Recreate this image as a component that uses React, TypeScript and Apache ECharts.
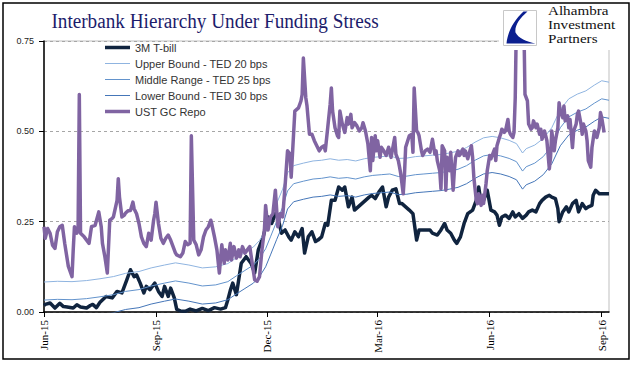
import React, { useEffect, useRef } from 'react';
import * as echarts from 'echarts';

const titleText = 'Interbank Hierarchy Under Funding Stress';
const logoLines = ['Alhambra', 'Investment', 'Partners'];
const seriesNames = ['3M T-bill', 'Upper Bound - TED 20 bps', 'Middle Range - TED 25 bps', 'Lower Bound - TED 30 bps', 'UST GC Repo'];
const seriesColors = ['#10243f', '#8fb4e0', '#6393cc', '#4576b8', '#8064a2'];
const seriesWidths = [3.5, 1, 1, 1, 3.5];

const tickDates = ['2015-06-01', '2015-09-01', '2015-12-01', '2016-03-01', '2016-06-01', '2016-09-01'];
const tickLabels = ['Jun-15', 'Sep-15', 'Dec-15', 'Mar-16', 'Jun-16', 'Sep-16'];
const xEnd = '2016-09-07';
const yTicks = [0, 0.25, 0.5, 0.75];

const tbill: [string, number][] = [
['2015-06-01',0.018],['2015-06-02',0.021],['2015-06-06',0.025],['2015-06-10',0.011],['2015-06-14',0.024],['2015-06-17',0.015],['2015-06-20',0.014],['2015-06-25',0.011],['2015-06-28',0.020],['2015-07-01',0.014],['2015-07-06',0.011],['2015-07-09',0.018],['2015-07-11',0.021],['2015-07-14',0.012],['2015-07-17',0.027],['2015-07-22',0.043],['2015-07-27',0.039],['2015-07-31',0.057],['2015-08-04',0.053],['2015-08-08',0.089],['2015-08-11',0.117],['2015-08-14',0.098],['2015-08-16',0.103],['2015-08-19',0.080],['2015-08-22',0.053],['2015-08-24',0.071],['2015-08-27',0.062],['2015-08-31',0.080],['2015-09-03',0.057],['2015-09-06',0.043],['2015-09-08',0.071],['2015-09-11',0.043],['2015-09-13',0.066],['2015-09-16',0.039],['2015-09-18',0.007],['2015-09-21',0.003],['2015-09-25',0.002],['2015-09-29',0.008],['2015-10-04',0.003],['2015-10-09',0.010],['2015-10-14',0.004],['2015-10-19',0.012],['2015-10-24',0.008],['2015-10-28',0.012],['2015-10-30',0.034],['2015-11-01',0.060],['2015-11-03',0.080],['2015-11-06',0.048],['2015-11-10',0.135],['2015-11-14',0.153],['2015-11-18',0.135],['2015-11-21',0.108],['2015-11-24',0.172],['2015-11-28',0.208],['2015-12-02',0.263],['2015-12-05',0.245],['2015-12-08',0.272],['2015-12-10',0.263],['2015-12-13',0.218],['2015-12-16',0.227],['2015-12-19',0.208],['2015-12-21',0.199],['2015-12-24',0.222],['2015-12-27',0.208],['2015-12-30',0.231],['2016-01-01',0.163],['2016-01-04',0.208],['2016-01-07',0.222],['2016-01-10',0.195],['2016-01-12',0.199],['2016-01-15',0.208],['2016-01-18',0.245],['2016-01-20',0.240],['2016-01-23',0.309],['2016-01-26',0.309],['2016-01-29',0.346],['2016-02-01',0.337],['2016-02-03',0.346],['2016-02-06',0.291],['2016-02-09',0.318],['2016-02-11',0.282],['2016-02-14',0.291],['2016-02-17',0.300],['2016-02-20',0.309],['2016-02-23',0.318],['2016-02-25',0.323],['2016-02-28',0.314],['2016-03-02',0.332],['2016-03-05',0.346],['2016-03-08',0.291],['2016-03-10',0.318],['2016-03-13',0.337],['2016-03-16',0.341],['2016-03-19',0.300],['2016-03-21',0.300],['2016-03-24',0.291],['2016-03-27',0.282],['2016-03-30',0.272],['2016-04-02',0.199],['2016-04-04',0.227],['2016-04-13',0.227],['2016-04-15',0.218],['2016-04-19',0.213],['2016-04-22',0.227],['2016-04-25',0.245],['2016-04-27',0.227],['2016-04-30',0.218],['2016-05-03',0.199],['2016-05-05',0.190],['2016-05-08',0.208],['2016-05-11',0.245],['2016-05-14',0.272],['2016-05-18',0.282],['2016-05-21',0.309],['2016-05-23',0.346],['2016-05-25',0.300],['2016-05-27',0.309],['2016-05-30',0.337],['2016-06-02',0.282],['2016-06-05',0.277],['2016-06-07',0.268],['2016-06-09',0.240],['2016-06-11',0.263],['2016-06-14',0.268],['2016-06-17',0.259],['2016-06-20',0.277],['2016-06-22',0.263],['2016-06-25',0.272],['2016-06-28',0.259],['2016-07-01',0.268],['2016-07-03',0.277],['2016-07-06',0.282],['2016-07-09',0.277],['2016-07-12',0.300],['2016-07-14',0.309],['2016-07-17',0.318],['2016-07-20',0.323],['2016-07-22',0.318],['2016-07-25',0.314],['2016-07-27',0.286],['2016-07-28',0.250],['2016-07-31',0.277],['2016-08-03',0.291],['2016-08-05',0.277],['2016-08-08',0.300],['2016-08-11',0.309],['2016-08-13',0.277],['2016-08-16',0.300],['2016-08-19',0.286],['2016-08-21',0.291],['2016-08-24',0.295],['2016-08-25',0.323],['2016-08-27',0.337],['2016-08-30',0.327],['2016-09-07',0.327]
];

const tedDates = ['2015-06-01','2015-06-12','2015-06-24','2015-07-06','2015-07-17','2015-07-28','2015-08-07','2015-08-18','2015-08-28','2015-09-08','2015-09-17','2015-09-28','2015-10-09','2015-10-20','2015-10-30','2015-11-06','2015-11-13','2015-11-20','2015-11-25','2015-11-30','2015-12-04','2015-12-09','2015-12-14','2015-12-18','2015-12-23','2015-12-31','2016-01-08','2016-01-15','2016-01-22','2016-01-29','2016-02-05','2016-02-12','2016-02-19','2016-02-26','2016-03-04','2016-03-11','2016-03-18','2016-03-25','2016-04-01','2016-04-08','2016-04-15','2016-04-22','2016-04-29','2016-05-06','2016-05-13','2016-05-20','2016-05-27','2016-06-03','2016-06-10','2016-06-17','2016-06-23','2016-06-28','2016-07-01','2016-07-08','2016-07-15','2016-07-22','2016-07-29','2016-08-05','2016-08-12','2016-08-19','2016-08-26','2016-09-01','2016-09-07'];

const upperVals = [0.083,0.085,0.084,0.087,0.092,0.098,0.107,0.112,0.122,0.130,0.136,0.130,0.122,0.125,0.134,0.150,0.165,0.180,0.198,0.225,0.258,0.300,0.340,0.385,0.405,0.412,0.418,0.420,0.424,0.420,0.422,0.418,0.424,0.428,0.430,0.432,0.425,0.426,0.430,0.432,0.434,0.436,0.440,0.445,0.455,0.470,0.482,0.486,0.482,0.475,0.466,0.440,0.452,0.462,0.480,0.510,0.560,0.590,0.603,0.612,0.628,0.640,0.636];
const middleVals = [0.033,0.035,0.034,0.037,0.042,0.048,0.057,0.062,0.072,0.080,0.086,0.080,0.072,0.075,0.084,0.100,0.115,0.130,0.148,0.175,0.208,0.250,0.290,0.335,0.355,0.362,0.368,0.370,0.374,0.370,0.372,0.368,0.374,0.378,0.380,0.382,0.375,0.376,0.380,0.382,0.384,0.386,0.390,0.395,0.405,0.420,0.432,0.436,0.432,0.425,0.416,0.390,0.402,0.412,0.430,0.460,0.510,0.540,0.553,0.562,0.578,0.590,0.586];
const lowerVals = [-0.017,-0.015,-0.016,-0.013,-0.008,-0.002,0.007,0.012,0.022,0.030,0.036,0.030,0.022,0.025,0.034,0.050,0.065,0.080,0.098,0.125,0.158,0.200,0.240,0.285,0.305,0.312,0.318,0.320,0.324,0.320,0.322,0.318,0.324,0.328,0.330,0.332,0.325,0.326,0.330,0.332,0.334,0.336,0.340,0.345,0.355,0.370,0.382,0.386,0.382,0.375,0.366,0.340,0.352,0.362,0.380,0.410,0.460,0.490,0.503,0.512,0.528,0.540,0.536];

const repo: [string, number][] = [
['2015-06-01',0.236],['2015-06-02',0.204],['2015-06-04',0.231],['2015-06-06',0.218],['2015-06-08',0.185],['2015-06-10',0.176],['2015-06-12',0.222],['2015-06-14',0.236],['2015-06-16',0.240],['2015-06-18',0.190],['2015-06-21',0.126],['2015-06-24',0.098],['2015-06-25',0.172],['2015-06-26',0.236],['2015-06-28',0.218],['2015-06-29',0.236],['2015-06-30',0.602],['2015-07-01',0.218],['2015-07-04',0.208],['2015-07-06',0.199],['2015-07-08',0.190],['2015-07-10',0.236],['2015-07-13',0.240],['2015-07-16',0.277],['2015-07-18',0.236],['2015-07-19',0.190],['2015-07-21',0.153],['2015-07-23',0.108],['2015-07-25',0.254],['2015-07-27',0.259],['2015-07-28',0.263],['2015-07-31',0.309],['2015-08-01',0.369],['2015-08-02',0.318],['2015-08-04',0.263],['2015-08-06',0.268],['2015-08-07',0.274],['2015-08-09',0.280],['2015-08-11',0.281],['2015-08-13',0.304],['2015-08-14',0.286],['2015-08-16',0.272],['2015-08-18',0.245],['2015-08-20',0.208],['2015-08-22',0.190],['2015-08-24',0.181],['2015-08-26',0.218],['2015-08-28',0.199],['2015-08-30',0.254],['2015-08-31',0.272],['2015-09-01',0.304],['2015-09-03',0.245],['2015-09-05',0.204],['2015-09-07',0.190],['2015-09-09',0.204],['2015-09-11',0.213],['2015-09-13',0.199],['2015-09-15',0.181],['2015-09-17',0.163],['2015-09-18',0.158],['2015-09-21',0.153],['2015-09-23',0.163],['2015-09-25',0.195],['2015-09-27',0.186],['2015-09-29',0.190],['2015-09-30',0.488],['2015-10-02',0.199],['2015-10-04',0.186],['2015-10-06',0.158],['2015-10-08',0.172],['2015-10-10',0.208],['2015-10-12',0.227],['2015-10-14',0.236],['2015-10-16',0.254],['2015-10-17',0.240],['2015-10-19',0.208],['2015-10-21',0.172],['2015-10-23',0.108],['2015-10-25',0.186],['2015-10-27',0.135],['2015-10-28',0.172],['2015-10-30',0.144],['2015-11-01',0.190],['2015-11-02',0.144],['2015-11-04',0.181],['2015-11-06',0.149],['2015-11-08',0.172],['2015-11-09',0.153],['2015-11-11',0.181],['2015-11-13',0.163],['2015-11-15',0.172],['2015-11-17',0.181],['2015-11-19',0.135],['2015-11-21',0.089],['2015-11-23',0.085],['2015-11-25',0.098],['2015-11-27',0.172],['2015-11-29',0.227],['2015-11-30',0.295],['2015-12-02',0.227],['2015-12-04',0.263],['2015-12-06',0.272],['2015-12-08',0.337],['2015-12-10',0.236],['2015-12-12',0.272],['2015-12-14',0.263],['2015-12-16',0.350],['2015-12-18',0.446],['2015-12-20',0.437],['2015-12-21',0.373],['2015-12-24',0.556],['2015-12-27',0.565],['2015-12-29',0.584],['2015-12-30',0.602],['2015-12-31',0.703],['2016-01-02',0.593],['2016-01-03',0.570],['2016-01-05',0.492],['2016-01-07',0.492],['2016-01-09',0.474],['2016-01-11',0.460],['2016-01-13',0.446],['2016-01-15',0.456],['2016-01-17',0.460],['2016-01-18',0.446],['2016-01-20',0.510],['2016-01-22',0.575],['2016-01-23',0.620],['2016-01-24',0.556],['2016-01-26',0.510],['2016-01-28',0.488],['2016-01-29',0.483],['2016-01-30',0.556],['2016-02-01',0.520],['2016-02-03',0.497],['2016-02-05',0.538],['2016-02-06',0.520],['2016-02-08',0.547],['2016-02-09',0.510],['2016-02-11',0.524],['2016-02-13',0.515],['2016-02-15',0.501],['2016-02-17',0.510],['2016-02-18',0.524],['2016-02-20',0.501],['2016-02-22',0.465],['2016-02-24',0.391],['2016-02-25',0.483],['2016-02-26',0.419],['2016-02-28',0.488],['2016-02-29',0.446],['2016-03-01',0.474],['2016-03-03',0.428],['2016-03-04',0.456],['2016-03-06',0.446],['2016-03-08',0.433],['2016-03-10',0.456],['2016-03-12',0.428],['2016-03-13',0.446],['2016-03-15',0.483],['2016-03-16',0.437],['2016-03-18',0.419],['2016-03-19',0.401],['2016-03-20',0.382],['2016-03-22',0.327],['2016-03-23',0.378],['2016-03-24',0.456],['2016-03-27',0.488],['2016-03-29',0.492],['2016-03-30',0.442],['2016-03-31',0.620],['2016-04-02',0.501],['2016-04-03',0.497],['2016-04-04',0.488],['2016-04-06',0.446],['2016-04-07',0.433],['2016-04-09',0.446],['2016-04-11',0.451],['2016-04-13',0.442],['2016-04-15',0.478],['2016-04-17',0.437],['2016-04-18',0.446],['2016-04-19',0.419],['2016-04-21',0.391],['2016-04-22',0.341],['2016-04-23',0.460],['2016-04-25',0.446],['2016-04-26',0.337],['2016-04-27',0.428],['2016-04-29',0.391],['2016-04-30',0.442],['2016-05-02',0.337],['2016-05-03',0.391],['2016-05-04',0.428],['2016-05-06',0.446],['2016-05-07',0.433],['2016-05-08',0.437],['2016-05-10',0.451],['2016-05-11',0.433],['2016-05-12',0.446],['2016-05-14',0.424],['2016-05-15',0.437],['2016-05-17',0.460],['2016-05-18',0.428],['2016-05-19',0.373],['2016-05-21',0.309],['2016-05-22',0.300],['2016-05-23',0.327],['2016-05-25',0.295],['2016-05-26',0.323],['2016-05-27',0.300],['2016-05-29',0.355],['2016-05-30',0.391],['2016-06-01',0.433],['2016-06-02',0.424],['2016-06-03',0.433],['2016-06-05',0.451],['2016-06-06',0.419],['2016-06-07',0.460],['2016-06-09',0.483],['2016-06-10',0.492],['2016-06-11',0.506],['2016-06-13',0.497],['2016-06-14',0.501],['2016-06-16',0.533],['2016-06-17',0.501],['2016-06-18',0.492],['2016-06-20',0.483],['2016-06-21',0.497],['2016-06-22',0.593],['2016-06-23',0.820],['2016-06-26',0.820],['2016-06-29',0.820],['2016-06-30',0.602],['2016-07-02',0.584],['2016-07-03',0.520],['2016-07-05',0.506],['2016-07-06',0.510],['2016-07-07',0.529],['2016-07-09',0.510],['2016-07-10',0.520],['2016-07-12',0.492],['2016-07-13',0.506],['2016-07-14',0.478],['2016-07-16',0.501],['2016-07-17',0.488],['2016-07-18',0.474],['2016-07-20',0.396],['2016-07-21',0.428],['2016-07-22',0.501],['2016-07-24',0.446],['2016-07-25',0.474],['2016-07-27',0.510],['2016-07-28',0.579],['2016-07-29',0.556],['2016-07-31',0.538],['2016-08-01',0.570],['2016-08-02',0.529],['2016-08-04',0.543],['2016-08-05',0.510],['2016-08-06',0.533],['2016-08-08',0.455],['2016-08-09',0.501],['2016-08-11',0.520],['2016-08-12',0.547],['2016-08-13',0.556],['2016-08-15',0.520],['2016-08-16',0.492],['2016-08-17',0.520],['2016-08-19',0.501],['2016-08-20',0.474],['2016-08-21',0.419],['2016-08-23',0.401],['2016-08-24',0.455],['2016-08-26',0.501],['2016-08-27',0.492],['2016-08-28',0.483],['2016-08-30',0.510],['2016-08-31',0.552],['2016-09-01',0.538],['2016-09-03',0.497]
];

const LOGO_D = 'M20 1 L24 1 C16 8 11 15 12 22 C15 28 23 31 32 33 L3 33 C4 22 10 10 20 1 Z';

const ts = (s: string) => {
  const [y, m, d] = s.split('-').map(Number);
  return Date.UTC(y, m - 1, d);
};

export default function App() {
  const ref = useRef<HTMLDivElement>(null);
  useEffect(() => {
    document.body.style.margin = '0';
    if (!ref.current) return;
    try {
      echarts.graphic.registerShape('logo', echarts.graphic.extendPath(LOGO_D, {}));
    } catch (e) {}
    const chart = echarts.init(ref.current, null, { renderer: 'svg' });
    const tickTs = tickDates.map(ts);
    const labelFor = (v: number) => {
      const i = tickTs.findIndex((t) => Math.abs(t - v) < 43200000);
      return i >= 0 ? tickLabels[i] : '';
    };
    const pairs = (arr: [string, number][]) => arr.map(([d, v]) => [ts(d), v]);
    const ted = (vals: number[]) => tedDates.map((d, i) => [ts(d), vals[i]]);
    const datas = [pairs(tbill), ted(upperVals), ted(middleVals), ted(lowerVals), pairs(repo)];
    const series = seriesNames.map((name, i) => ({
      name,
      type: 'line',
      data: datas[i],
      symbol: 'none',
      showSymbol: false,
      clip: true,
      silent: true,
      lineStyle: { color: seriesColors[i], width: seriesWidths[i], join: 'round' },
      itemStyle: { color: seriesColors[i] },
      z: 2 + i,
    }));
    chart.setOption({
      animation: false,
      backgroundColor: '#ffffff',
      grid: { left: 44, right: 32, top: 41, bottom: 63, show: true, borderColor: '#bfbfbf', borderWidth: 1, backgroundColor: 'transparent' },
      legend: {
        orient: 'vertical',
        left: 105,
        top: 42,
        padding: 0,
        itemWidth: 25,
        itemHeight: 14,
        itemGap: 5,
        selectedMode: false,
        symbolKeepAspect: true,
        data: seriesNames.map((n, i) => ({
          name: n,
          icon: `path://M0,0L25,0L25,${seriesWidths[i]}L0,${seriesWidths[i]}Z`,
          itemStyle: { color: seriesColors[i] },
        })),
        textStyle: { fontFamily: 'Liberation Sans', fontSize: 11, color: '#333333' },
      },
      xAxis: {
        type: 'value',
        min: tickTs[0],
        max: ts(xEnd),
        scale: true,
        axisLine: { show: true, onZero: false, lineStyle: { color: '#000', width: 1.5 } },
        axisTick: { show: true, length: 5, lineStyle: { color: '#000', width: 1 }, customValues: tickTs },
        axisLabel: {
          customValues: tickTs,
          rotate: 90,
          margin: 8,
          formatter: (v: number) => labelFor(v),
          fontFamily: 'Liberation Serif',
          fontSize: 11,
          color: '#000',
        },
        splitLine: { show: false },
      },
      yAxis: {
        type: 'value',
        min: yTicks[0],
        max: yTicks[yTicks.length - 1],
        interval: 0.25,
        axisLine: { show: true, lineStyle: { color: '#000', width: 1.5 } },
        axisTick: { show: true, length: 5, lineStyle: { color: '#000' } },
        axisLabel: { formatter: (v: number) => v.toFixed(2), fontFamily: 'Liberation Sans', fontSize: 9, color: '#222', margin: 10 },
        splitLine: { show: true, lineStyle: { color: '#a6a6a6', type: [3, 3], width: 1 } },
      },
      series,
      graphic: [
        {
          type: 'text',
          x: 215,
          y: 21,
          scaleX: 0.96,
          z: 50,
          style: { text: titleText, fontFamily: 'Liberation Serif', fontSize: 20, fill: '#1c1c6b', align: 'center', verticalAlign: 'middle' },
        },
        { type: 'rect', z: 100, shape: { x: 499, y: 5, width: 127, height: 45 }, style: { fill: '#ffffff' } },
        { type: 'rect', z: 101, shape: { x: 503.5, y: 10.5, width: 33, height: 35 }, style: { fill: '#ffffff', stroke: '#c8c8c8', lineWidth: 1 } },
        { type: 'logo', z: 102, x: 503.5, y: 10.5, style: { fill: '#0b1f8f' } },
        ...logoLines.map((t, i) => ({
          type: 'text',
          z: 102,
          x: 548,
          y: 10 + i * 14,
          scaleX: 1.12,
          style: { text: t, fontFamily: 'Liberation Serif', fontSize: 13.5, fill: '#111', align: 'left', verticalAlign: 'middle' },
        })),
        {
          type: 'rect',
          z: 120,
          shape: { x: 3, y: 3, width: 626, height: 356 },
          style: { fill: 'none', stroke: '#000', lineWidth: 1.5 },
        },
      ],
    });
    return () => chart.dispose();
  }, []);
  return <div ref={ref} style={{ width: 641, height: 375 }} />;
}
